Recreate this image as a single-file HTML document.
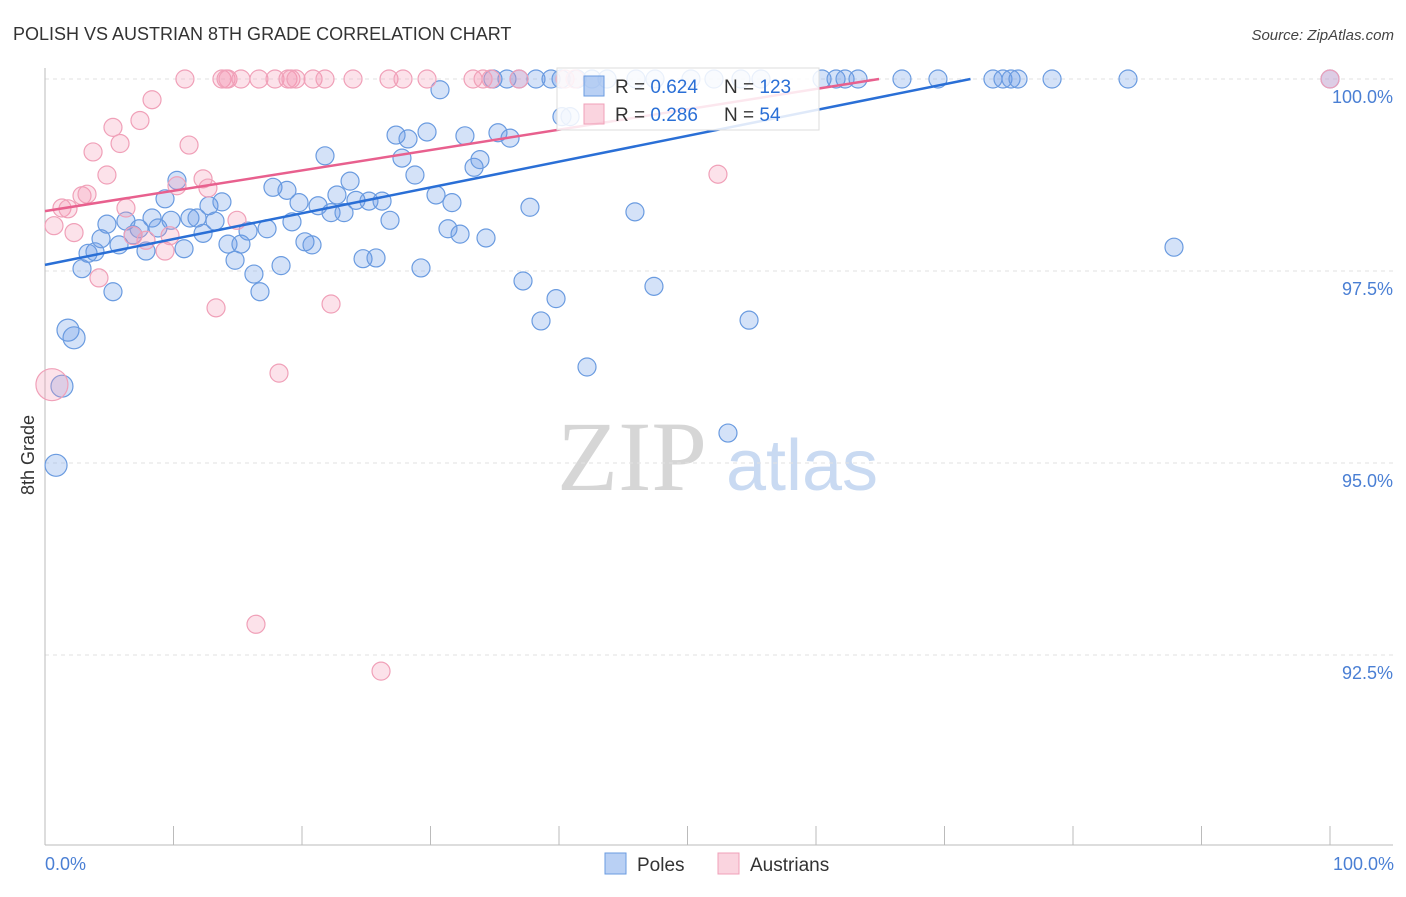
<!DOCTYPE html>
<html><head><meta charset="utf-8"><style>
body{margin:0;background:#fff;font-family:"Liberation Sans",sans-serif;}
</style></head><body>
<svg id="chart" width="1406" height="892" xmlns="http://www.w3.org/2000/svg" font-family="Liberation Sans, sans-serif">
<text x="13" y="40" font-size="18" fill="#333">POLISH VS AUSTRIAN 8TH GRADE CORRELATION CHART</text>
<text x="1394" y="40" font-size="15" fill="#444" text-anchor="end" font-style="italic">Source: ZipAtlas.com</text>
<g>
<text x="632" y="490" font-size="100" fill="#d6d6d6" text-anchor="middle" style="font-family:'Liberation Serif',serif">ZIP</text>
<text x="802" y="490" font-size="72" fill="#c9daf2" text-anchor="middle">atlas</text>
</g>
<g id="grid"></g>
<g id="axes"></g>
<g id="pts"></g>
<g id="lines"></g>
<text transform="translate(34,455) rotate(-90)" font-size="18" fill="#333" text-anchor="middle">8th Grade</text>
<text x="45" y="870" font-size="18" fill="#4a7fd4">0.0%</text>
<text x="1394" y="870" font-size="18" fill="#4a7fd4" text-anchor="end">100.0%</text>
<g>
<rect x="557" y="68" width="262" height="62" fill="rgba(255,255,255,0.85)" stroke="#ddd"/>
<rect x="584" y="76" width="20" height="20" fill="rgba(100,150,230,0.45)" stroke="#6a9be0"/>
<rect x="584" y="104" width="20" height="20" fill="rgba(245,160,185,0.45)" stroke="#f0a0b8"/>
<text x="615" y="93" font-size="19" fill="#333">R = <tspan fill="#2a6fd6">0.624</tspan></text>
<text x="724" y="93" font-size="19" fill="#333">N = <tspan fill="#2a6fd6">123</tspan></text>
<text x="615" y="121" font-size="19" fill="#333">R = <tspan fill="#2a6fd6">0.286</tspan></text>
<text x="724" y="121" font-size="19" fill="#333">N = <tspan fill="#2a6fd6"> 54</tspan></text>
</g>
<g>
<rect x="605" y="853" width="21" height="21" fill="rgba(100,150,230,0.45)" stroke="#6a9be0"/>
<text x="637" y="871" font-size="19" fill="#333">Poles</text>
<rect x="718" y="853" width="21" height="21" fill="rgba(245,160,185,0.45)" stroke="#f0a0b8"/>
<text x="750" y="871" font-size="19" fill="#333">Austrians</text>
</g>
</svg>
<script>
const yTicks=[100,97.5,95,92.5];
const yTickLabels=["100.0%","97.5%","95.0%","92.5%"];
const xTicks=[0,10,20,30,40,50,60,70,80,90,100];
const polesX=[0.86,1.32,1.79,2.26,2.88,3.35,3.89,4.36,4.82,5.29,5.76,6.3,6.85,7.32,7.86,8.33,8.79,9.34,9.81,10.27,10.82,11.28,11.83,12.3,12.76,13.23,13.77,14.24,14.79,15.25,15.8,16.26,16.73,17.28,17.74,18.37,18.83,19.22,19.77,20.23,20.78,21.25,21.79,22.26,22.72,23.27,23.74,24.2,24.75,25.21,25.76,26.23,26.85,27.32,27.78,28.25,28.79,29.26,29.73,30.43,30.74,31.36,31.67,32.3,32.68,33.39,33.85,34.32,35.25,36.19,37.2,37.74,38.6,39.77,40.23,42.18,45.91,47.39,53.15,54.79,87.86,
34.86,35.95,36.89,38.21,39.38,40.16,41.4,42.57,43.74,45.99,47.47,50.27,52.06,54.16,55.72,60.47,61.56,62.26,63.27,66.69,69.49,73.77,74.55,75.18,75.72,78.37,84.28,100,40.86];
const polesY=[94.97,96.0,96.73,96.63,97.53,97.73,97.75,97.92,98.11,97.23,97.84,98.15,97.97,98.05,97.76,98.19,98.06,98.44,98.16,98.68,97.79,98.19,98.19,97.99,98.35,98.15,98.4,97.85,97.64,97.85,98.02,97.46,97.23,98.05,98.59,97.57,98.55,98.14,98.39,97.88,97.84,98.35,99.0,98.26,98.49,98.26,98.67,98.42,97.66,98.41,97.67,98.41,98.16,99.27,98.97,99.22,98.75,97.54,99.31,98.49,99.86,98.05,98.39,97.98,99.26,98.85,98.95,97.93,99.3,99.23,97.37,98.33,96.85,97.14,99.51,96.25,98.27,97.3,95.39,96.86,97.81,
100,100,100,100,100,100,100,100,100,100,100,100,100,100,100,100,100,100,100,100,100,100,100,100,100,100,100,100,99.51];
const austX=[10.89,13.77,14.09,14.24,15.25,16.65,17.9,18.91,19.14,19.53,20.86,21.79,23.97,26.77,27.86,29.73,33.31,34.09,34.71,36.89,40.47,41.25,100,
0.54,0.7,1.32,1.79,2.26,2.88,3.27,3.74,4.2,4.82,5.29,5.84,6.3,6.85,7.39,7.86,8.33,9.34,9.73,10.27,11.21,12.3,12.68,13.31,14.94,16.42,18.21,22.26,26.15,52.37];
const austY=[100,100,100,100,100,100,100,100,100,100,100,100,100,100,100,100,100,100,100,100,100,100,100,
96.02,98.09,98.32,98.31,98.0,98.48,98.5,99.05,97.41,98.75,99.37,99.16,98.32,97.96,99.46,97.9,99.73,97.76,97.96,98.61,99.14,98.7,98.58,97.02,98.16,92.9,96.17,97.07,92.29,98.76];
const polesTrend=[97.58,0.0336];
const austTrend=[98.28,0.0265];

const NS="http://www.w3.org/2000/svg";
const X=v=>45+v*12.85, Y=v=>79+(100-v)*76.8;
function mk(tag,attrs,parent){const e=document.createElementNS(NS,tag);for(const k in attrs)e.setAttribute(k,attrs[k]);document.getElementById(parent).appendChild(e);return e;}
yTicks.forEach((t,i)=>{
  const l=mk('line',{x1:45,x2:1393,y1:Y(t),y2:Y(t),stroke:'#e2e2e2','stroke-dasharray':'4,4'},'grid');
  
  
  const tx=mk('text',{x:1393,y:Y(t)+24,'font-size':18,fill:'#4a7fd4','text-anchor':'end'},'grid');
  tx.textContent=yTickLabels[i];
  
  
});
const ax=mk('line',{x1:45,x2:45,y1:68,y2:845,stroke:'#bbb'},'axes');


const bx=mk('line',{x1:45,x2:1393,y1:845,y2:845,stroke:'#bbb'},'axes');


xTicks.forEach(t=>{
  const l=mk('line',{x1:X(t),x2:X(t),y1:826,y2:845,stroke:'#bbb'},'axes');
  
  
});
polesX.forEach((v,i)=>{
  const r=(v<3&&polesY[i]<97)?11:9;
  const c=mk('circle',{cx:X(v),cy:Y(polesY[i]),r:r,fill:'rgba(100,150,230,0.28)',stroke:'#6a9be0','stroke-width':1.2},'pts');
  
  
});
austX.forEach((v,i)=>{
  const r=(i===23)?16:9;
  const c=mk('circle',{cx:X(v),cy:Y(austY[i]),r:r,fill:'rgba(245,150,180,0.28)',stroke:'#f0a0b8','stroke-width':1.2},'pts');
  
  
});
function trend(tr,col,name){
  const xe=(100-tr[0])/tr[1];
  const l=mk('line',{x1:X(0),y1:Y(tr[0]),x2:X(xe),y2:Y(100),stroke:col,'stroke-width':2.5},'lines');
  
  
}
trend(polesTrend,'#2a6fd6','poles-trend-line');
trend(austTrend,'#e8608e','austrians-trend-line');
</script>
</body></html>
